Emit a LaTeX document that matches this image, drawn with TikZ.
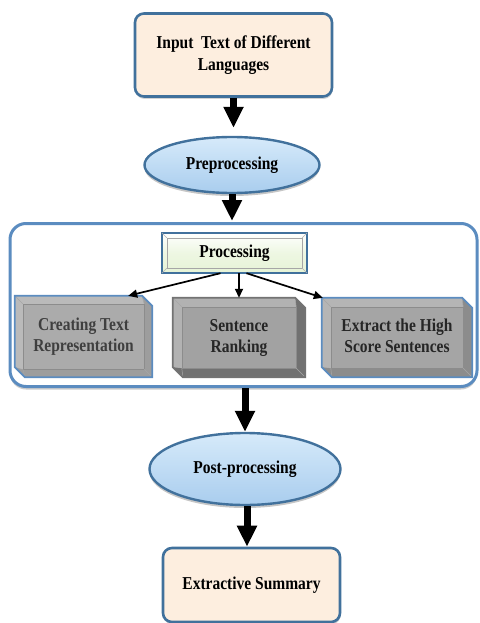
\documentclass[tikz,border=0pt]{standalone}
\usepackage{fontspec}
\usepackage{graphicx}
\setmainfont{Liberation Serif}
\usetikzlibrary{shapes.geometric,arrows.meta,backgrounds,calc,shadows}
\definecolor{bord}{HTML}{41719C}
\definecolor{bordlt}{HTML}{5B8CC0}
\definecolor{peach}{HTML}{FDEEDF}
\definecolor{skyA}{HTML}{D6EAFA}
\definecolor{skyB}{HTML}{A9CDEE}
\definecolor{mint}{HTML}{E6F3D6}
\definecolor{greyA}{HTML}{ABABAB}
\definecolor{greyB}{HTML}{A2A2A2}
\definecolor{greyC}{HTML}{A5A5A5}
\definecolor{txtgrey}{HTML}{3F3F3F}
\newcommand\tx[1]{\scalebox{1}[1.17]{\begin{tabular}{@{}c@{}}#1\end{tabular}}}
% #1 name, #2 fill, #3 chamfer, #4 inset, #5 border, #6 shade opacity
\newcommand\bevelbox[6]{%
  \path[fill=#2]
    (#1.north west) -- ([xshift=-#3]#1.north east) -- ([yshift=-#3]#1.north east)
    -- (#1.south east) -- ([xshift=#3]#1.south west) -- ([yshift=#3]#1.south west) -- cycle;
  \fill[black, opacity=#6]
    ([xshift=-#3]#1.north east) -- ([yshift=-#3]#1.north east) -- (#1.south east)
    -- ([xshift=#3]#1.south west) -- ([yshift=#3]#1.south west)
    -- ([xshift=#4,yshift=#4]#1.south west) -- ([xshift=-#4,yshift=#4]#1.south east)
    -- ([xshift=-#4,yshift=-#4]#1.north east) -- cycle;
  \fill[white, opacity=0.18]
    (#1.north west) -- ([xshift=-#3]#1.north east) -- ([xshift=-#4,yshift=-#4]#1.north east)
    -- ([xshift=#4,yshift=-#4]#1.north west) -- ([xshift=#4,yshift=#4]#1.south west)
    -- ([yshift=#3]#1.south west) -- cycle;
  \draw[black!45, line width=0.6pt]
    ([xshift=#4,yshift=-#4]#1.north west) rectangle ([xshift=-#4,yshift=#4]#1.south east);
  \draw[black!35, line width=0.5pt]
    ([xshift=1pt,yshift=-1pt]#1.north west) -- ([xshift=#4,yshift=-#4]#1.north west)
    ([xshift=-#3,yshift=-1pt]#1.north east) -- ([xshift=-#4,yshift=-#4]#1.north east)
    ([xshift=-1pt,yshift=1pt]#1.south east) -- ([xshift=-#4,yshift=#4]#1.south east)
    ([xshift=#3,yshift=1pt]#1.south west) -- ([xshift=#4,yshift=#4]#1.south west);
  \path[draw=#5, line width=1.8pt]
    (#1.north west) -- ([xshift=-#3]#1.north east) -- ([yshift=-#3]#1.north east)
    -- (#1.south east) -- ([xshift=#3]#1.south west) -- ([yshift=#3]#1.south west) -- cycle;
}
\begin{document}
\begin{tikzpicture}[x=1pt,y=-1pt,
  font=\fontsize{15.5}{18.5}\selectfont\bfseries,
  roundbox/.style={rectangle, rounded corners=9pt, draw=bord, line width=2.6pt,
    fill=peach, align=center, inner sep=0pt,
    drop shadow={shadow xshift=0.5pt, shadow yshift=-2.5pt, opacity=0.35}},
  oval/.style={ellipse, draw=bord, line width=2.4pt, inner sep=0pt,
    top color=skyA, bottom color=skyB,
    drop shadow={shadow xshift=0pt, shadow yshift=-3pt, opacity=0.45}},
  textbox/.style={rectangle, inner sep=0pt, align=center},
  bigarrow/.style={line width=7pt, -{Triangle[length=21pt,width=19pt]}},
  smallarrow/.style={line width=1.7pt, -{Triangle[length=9pt,width=8pt]}}]
\useasboundingbox (0,0) rectangle (479,623);

% nodes
\node[roundbox, minimum width=197pt, minimum height=83pt] (input) at (233.5,55)
  {\tx{Input\ \ Text of Different\\Languages}};
\node[oval, minimum width=175pt, minimum height=56pt] (pre) at (232,165) {\tx{Preprocessing}};

\begin{scope}[on background layer]
\node[rectangle, rounded corners=16pt, draw=bordlt, line width=3pt, fill=white,
  minimum width=467pt, minimum height=163pt,
  drop shadow={shadow xshift=0pt, shadow yshift=-3pt, opacity=0.4}] (proc) at (243.5,305) {};
\end{scope}

\node[textbox, minimum width=145pt, minimum height=40pt] (pbox) at (234.5,253) {\tx{Processing}};
\node[textbox, minimum width=137pt, minimum height=81pt, text=txtgrey] (left) at (83.5,336.5)
  {\tx{Creating Text\\Representation}};
\node[textbox, minimum width=132pt, minimum height=79pt, text=black!85] (mid) at (239,337.5)
  {\tx{Sentence\\Ranking}};
\node[textbox, minimum width=150pt, minimum height=79pt, text=black!85] (right) at (397,337.5)
  {\tx{Extract the High\\Score Sentences}};

\begin{scope}[on background layer]
  % processing box
  \path[draw=bord, line width=2.2pt, top color=white, bottom color=mint, middle color=mint!70]
    (pbox.north west) rectangle (pbox.south east);
  \draw[black!35, line width=0.6pt]
    ([xshift=5pt,yshift=-5pt]pbox.north west) rectangle ([xshift=-5pt,yshift=5pt]pbox.south east);
  \draw[black!30, line width=0.5pt]
    (pbox.north west) -- ([xshift=5pt,yshift=-5pt]pbox.north west)
    (pbox.north east) -- ([xshift=-5pt,yshift=-5pt]pbox.north east)
    (pbox.south east) -- ([xshift=-5pt,yshift=5pt]pbox.south east)
    (pbox.south west) -- ([xshift=5pt,yshift=5pt]pbox.south west);
  \bevelbox{left}{greyA}{10pt}{8pt}{bordlt}{0.08}
  \bevelbox{mid}{greyB}{10pt}{9pt}{black!55}{0.3}
  \bevelbox{right}{greyC}{10pt}{9pt}{bordlt}{0.15}
\end{scope}

\node[oval, minimum width=191pt, minimum height=72pt] (post) at (245,469) {\tx{Post-processing}};
\node[roundbox, minimum width=177pt, minimum height=74pt] (summ) at (251.5,585) {\tx{Extractive Summary}};

% connectors
\draw[bigarrow, shorten >=8pt] (input.south) -- (input.south |- pre.north);
\draw[bigarrow, shorten >=1pt] (pre.south) -- (pre.south |- proc.north);
\draw[bigarrow] (proc.south -| post.north) -- (post.north);
\draw[bigarrow] ([xshift=2pt]post.south) -- ([xshift=2pt]post.south |- summ.north);

\draw[smallarrow] ([xshift=-14pt]pbox.south) -- ([xshift=-24pt]left.north east);
\draw[smallarrow] (pbox.south -| mid.north) -- (mid.north);
\draw[smallarrow] ([xshift=12pt]pbox.south) -- ([xshift=1pt]right.north west);
\end{tikzpicture}
\end{document}
